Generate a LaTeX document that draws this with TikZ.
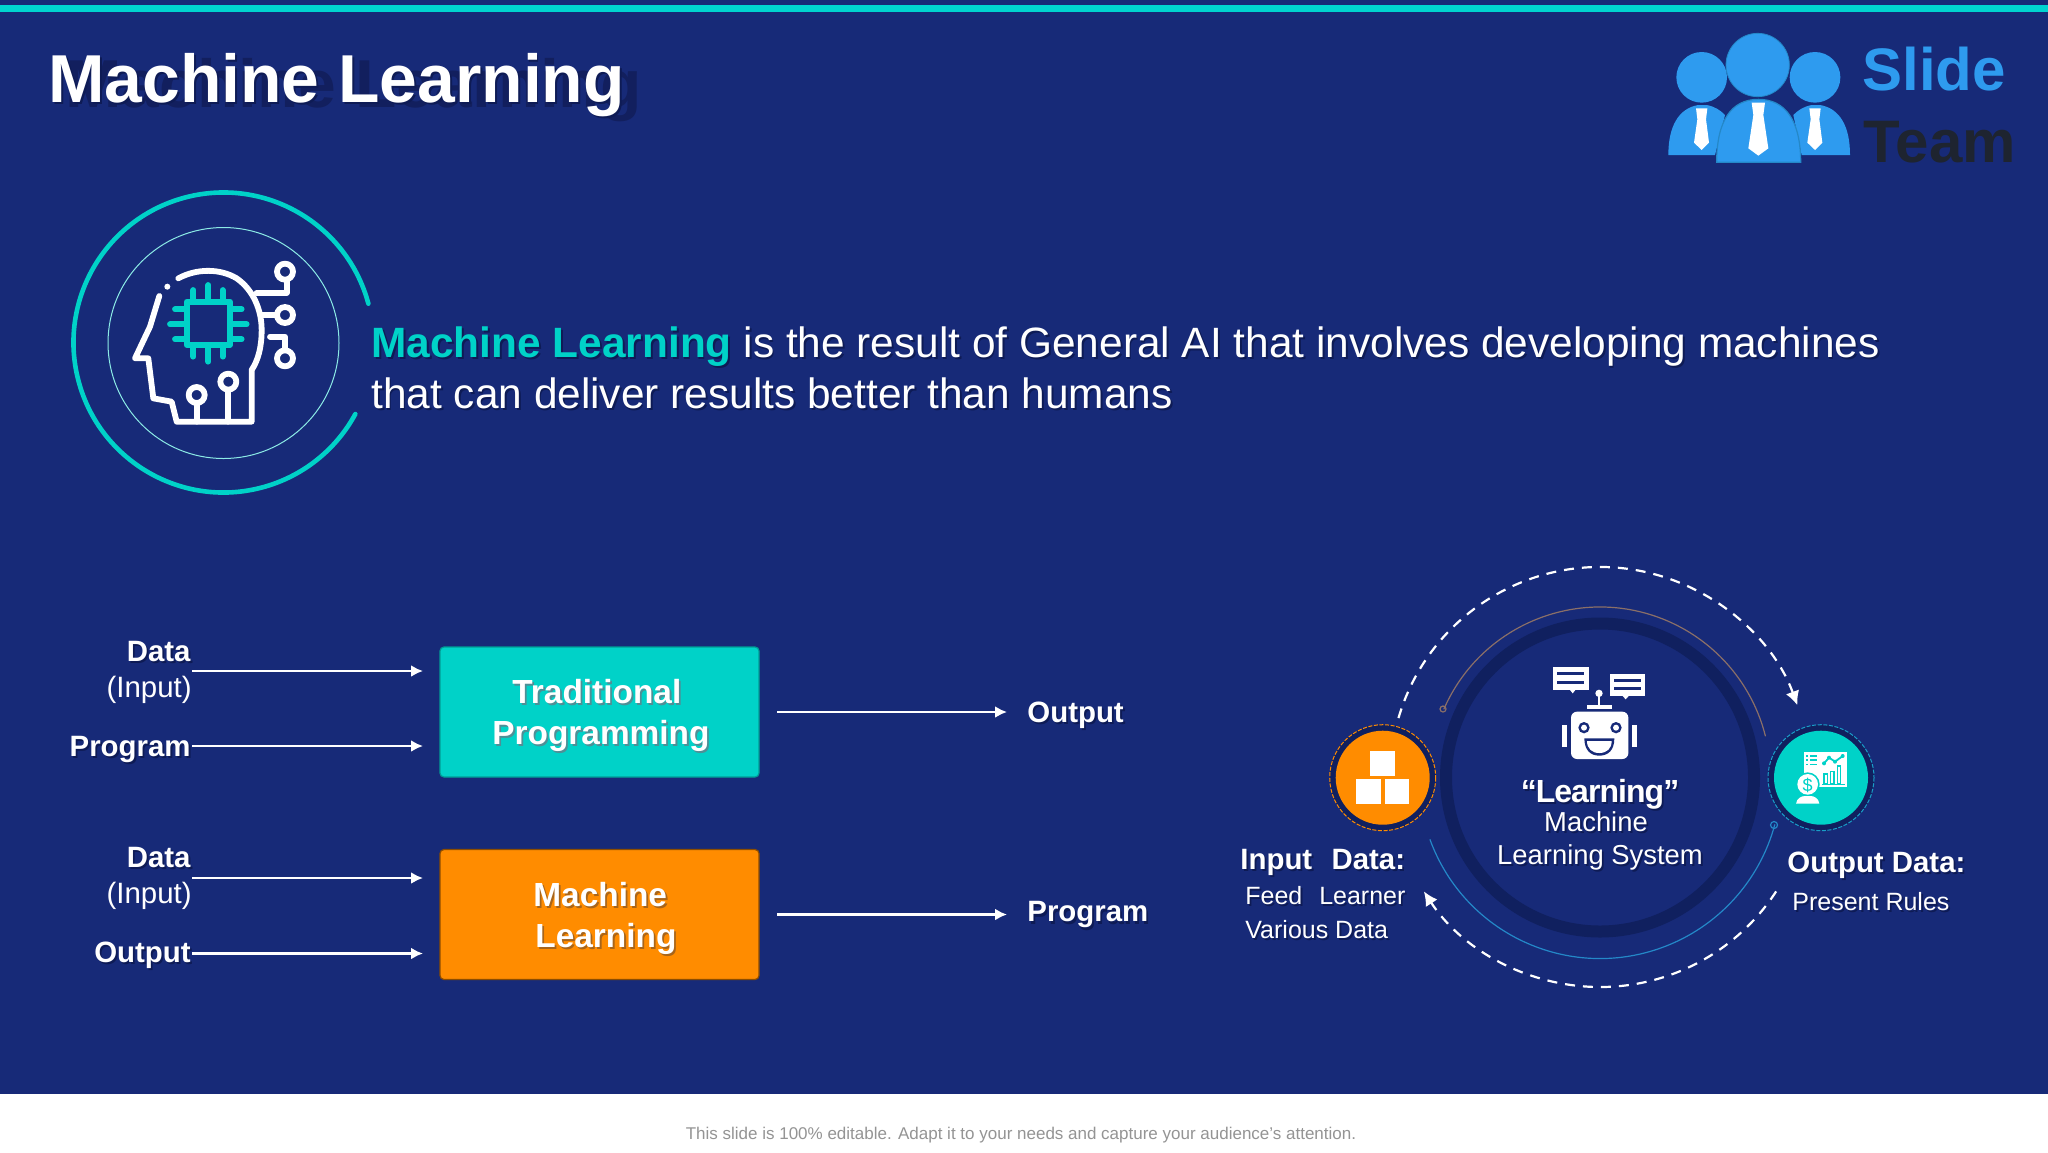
\documentclass[tikz,border=0pt]{standalone}
\usepackage{fontspec}
\setmainfont{Liberation Sans}
\newfontfamily\tightfam[LetterSpace=-3]{Liberation Sans}
\usetikzlibrary{arrows.meta}
\definecolor{bgnavy}{HTML}{172A78}
\definecolor{ringnavy}{HTML}{10205F}
\definecolor{teal}{HTML}{00D2C8}
\definecolor{barteal}{HTML}{00D4D0}
\definecolor{boxorange}{HTML}{FF8C00}
\definecolor{shadowc}{HTML}{0E1B55}
\definecolor{ghostc}{HTML}{121F5E}
\definecolor{logoblue}{HTML}{2E9BEF}
\definecolor{logodark}{HTML}{1E2430}
\definecolor{arcbrown}{HTML}{8A6F68}
\definecolor{arcblue}{HTML}{2488C8}
\definecolor{tealshadow}{HTML}{4F8F96}
\definecolor{orangeshadow}{HTML}{A8651A}
\newcommand{\shadc}[2]{\leavevmode\rlap{\raisebox{-1.1pt}{\kern.9pt\textcolor{#1}{#2}}}#2}
\newcommand{\shad}[1]{\shadc{shadowc}{#1}}
\newcommand{\fsz}[1]{\fontsize{#1}{#1}\selectfont}
\tikzset{
  lab/.style={inner sep=0pt,text=white,font=\fsz{14.7}},
  labb/.style={inner sep=0pt,text=white,font=\fsz{14.7}\bfseries},
  small/.style={inner sep=0pt,text=white,font=\fsz{12.5}},
  boxtext/.style={anchor=base west,inner sep=0pt,text=white,font=\fsz{16.7}\bfseries},
  whitearrow/.style={draw=white,line width=1.2pt,-{Latex[length=6pt,width=6pt]}},
  dasharc/.style={draw=white,line width=1.1pt,dash pattern=on 5pt off 4pt},
  progbox/.style={rounded corners=2pt,line width=.6pt,minimum width=159.5pt,minimum height=65pt,inner sep=0pt},
  iconline/.style={draw=white,line width=2.9pt,line cap=round,line join=round},
  chipline/.style={draw=teal,line width=2.9pt,line cap=round},
}
\begin{document}
\begin{tikzpicture}[x=0.5pt,y=-0.5pt]
\useasboundingbox (0,0) rectangle (2048,1152);
\fill[bgnavy] (0,0) rectangle (2048,1152);
\fill[barteal] (0,5) rectangle (2048,12);
\fill[white] (0,1094) rectangle (2048,1152);
% title
\node[anchor=base west,inner sep=0pt,text=white,font=\fsz{33.9}\bfseries] (title) at (48,102)
  {\leavevmode\rlap{\raisebox{-2.5pt}{\kern8.5pt\textcolor{ghostc}{Machine Learning}}}\shad{Machine Learning}};
% logo
\begin{scope}[shift={(1640,0)},scale=1/3]
  \fill[logoblue] (85,465) .. controls (85,380) and (115,325) .. (175,315) -- (200,315) .. controls (225,320) and (240,330) .. (255,345) -- (225,465) -- cycle;
  \fill[logoblue] (630,465) .. controls (630,380) and (600,325) .. (540,315) -- (515,315) .. controls (490,320) and (475,330) .. (460,345) -- (485,465) -- cycle;
  \fill[logoblue,draw=arcblue,line width=.6pt] (230,487) .. controls (230,360) and (275,298) .. (355,298) .. controls (435,298) and (482,360) .. (482,487) -- cycle;
  \fill[logoblue] (185,232) circle[radius=76];
  \fill[logoblue] (525,232) circle[radius=76];
  \fill[logoblue,draw=arcblue,line width=.4pt] (353,195) circle[radius=95];
  \fill[white] (168,325) -- (202,325) -- (198,358) -- (207,428) -- (185,450) -- (162,428) -- (172,358) -- cycle;
  \fill[white] (508,325) -- (542,325) -- (538,358) -- (547,428) -- (525,450) -- (502,428) -- (512,358) -- cycle;
  \fill[white] (335,308) -- (375,308) -- (370,345) -- (385,445) -- (355,467) -- (325,445) -- (340,345) -- cycle;
\end{scope}
\node[anchor=base west,inner sep=0pt,text=logoblue,font=\fsz{30}\bfseries] (slide) at (1862,90) {Slide};
\node[anchor=base west,inner sep=0pt,text=logodark,font=\fsz{30}\bfseries] (team) at (1863,162) {Team};
% head emblem
\draw[teal,line width=2.3pt,line cap=round] (223.5,342.5) ++(-15:150) arc[start angle=-15,end angle=-331.5,radius=150];
\draw[white!55!teal,line width=.5pt] (223.5,343) circle[radius=115.5];
\begin{scope}[shift={(40,170)},scale=1/3]
  \draw[iconline] (415,325) .. controls (470,295) and (540,295) .. (590,325) .. controls (640,360) and (665,420) .. (665,480) .. controls (665,530) and (655,570) .. (635,600) -- (635,755) -- (410,755) -- (395,695) -- (340,685) -- (325,565) -- (285,565) -- (330,470) -- (358,378);
  \fill[white] (382,350) circle[radius=9];
  \draw[iconline] (650,368) -- (740,368) -- (740,332);
  \draw[iconline] (735,305) circle[radius=24];
  \draw[iconline] (668,435) -- (710,435);
  \draw[iconline] (735,435) circle[radius=24];
  \draw[iconline] (690,500) -- (735,500) -- (735,540);
  \draw[iconline] (735,565) circle[radius=24];
  \draw[iconline] (470,755) -- (470,700);
  \draw[iconline] (470,675) circle[radius=24];
  \draw[iconline] (565,755) -- (565,660);
  \draw[iconline] (565,635) circle[radius=24];
  \draw[chipline,line join=round] (440,395) rectangle (570,525);
  \foreach \v/\t/\u in {460/360/560,505/345/575,548/360/560}{\draw[chipline] (\v,\t) -- (\v,395); \draw[chipline] (\v,525) -- (\v,\u);}
  \foreach \v/\t/\u in {418/405/605,463/390/620,508/405/605}{\draw[chipline] (\t,\v) -- (440,\v); \draw[chipline] (570,\v) -- (\u,\v);}
\end{scope}
% intro text
\node[anchor=base west,inner sep=0pt,text=white,font=\fsz{21.2}] (introa) at (371,357)
  {\leavevmode\rlap{\raisebox{-1.1pt}{\kern.9pt\textcolor{shadowc}{\bfseries Machine Learning}}}\textcolor{teal}{\bfseries Machine Learning} \shad{is the result of General AI that involves developing machines}};
\node[anchor=base west,inner sep=0pt,text=white,font=\fsz{21.2}] (introb) at (371,408)
  {\shad{that can deliver results better than humans}};
% program boxes
\node[progbox,fill=teal,draw=teal!75!black] (tp) at (599.5,712) {};
\node[progbox,fill=boxorange,draw=boxorange!55!black] (ml) at (599.5,914.5) {};
\node[boxtext] (tp1) at (512,703) {\shadc{tealshadow}{Traditional}};
\node[boxtext] (tp2) at (492,744) {\shadc{tealshadow}{Programming}};
\node[boxtext] (ml1) at (533,906) {\shadc{orangeshadow}{Machine}};
\node[boxtext] (ml2) at (535,947) {\shadc{orangeshadow}{Learning}};
% left labels
\node[labb,anchor=base east] (d1) at (191,661) {\shad{Data}};
\node[lab,anchor=base east] (i1) at (192,697) {(Input)};
\node[labb,anchor=base east] (p1) at (191,756) {\shad{Program}};
\node[labb,anchor=base east] (d2) at (191,867) {\shad{Data}};
\node[lab,anchor=base east] (i2) at (192,903) {(Input)};
\node[labb,anchor=base east] (o2) at (191,962) {\shad{Output}};
\coordinate (s1) at (192,671); \coordinate (e1) at (423,671);
\coordinate (s2) at (192,746); \coordinate (e2) at (423,746);
\coordinate (s3) at (192,878); \coordinate (e3) at (423,878);
\coordinate (s4) at (192,953.5); \coordinate (e4) at (423,953.5);
\draw[whitearrow] (s1) -- (e1);
\draw[whitearrow] (s2) -- (e2);
\draw[whitearrow] (s3) -- (e3);
\draw[whitearrow] (s4) -- (e4);
% right labels
\node[labb,anchor=west] (ro) at (1027,716) {\shad{Output}};
\node[labb,anchor=west] (rp) at (1027,916) {\shad{Program}};
\coordinate (s5) at (777,712); \coordinate (e5) at (1007,712);
\coordinate (s6) at (777,914.5); \coordinate (e6) at (1007,914.5);
\draw[whitearrow] (s5) -- (e5);
\draw[whitearrow] (s6) -- (e6);
% learning cycle
\draw[ringnavy,line width=6pt] (1600,777.5) circle[radius=154];
\draw[arcbrown,line width=.6pt] (1600,777.5) ++(-156.4:170.5) arc[start angle=-156.4,end angle=-14,radius=170.5];
\draw[arcbrown,line width=.6pt] (1443,709) circle[radius=3];
\draw[arcblue,line width=.6pt] (1600,777.5) ++(-200:181) arc[start angle=160,end angle=15,radius=181];
\draw[arcblue,line width=.6pt] (1774,825) circle[radius=3.5];
\draw[dasharc,-{Latex[length=7pt,width=7pt]}] (1600,777) ++(-163.7:210) arc[start angle=-163.7,end angle=-20,radius=210];
\draw[dasharc,-{Latex[length=7pt,width=7pt]}] (1600,777) ++(33:210) arc[start angle=33,end angle=147,radius=210];
% input circle
\fill[ringnavy] (1382.7,777.7) circle[radius=53];
\draw[boxorange,line width=.5pt,dash pattern=on 2pt off .8pt] (1382.7,777.7) circle[radius=53];
\fill[boxorange] (1382.7,777.7) circle[radius=47];
\begin{scope}[shift={(1220,550)},scale=1/3]
  \fill[white] (450,603) rectangle (525,678);
  \fill[white] (408,688) rectangle (483,762);
  \fill[white] (495,688) rectangle (568,762);
  % robot
  \fill[white,rounded corners=3pt] (1053,485) rectangle (1225,627);
  \fill[white] (1025,525) rectangle (1042,590);
  \fill[white] (1235,525) rectangle (1252,590);
  \fill[bgnavy] (1092,533) circle[radius=17];
  \fill[white] (1092,533) circle[radius=9];
  \fill[bgnavy] (1188,533) circle[radius=17];
  \fill[white] (1188,533) circle[radius=9];
  \fill[bgnavy] (1093,565) -- (1183,565) .. controls (1183,600) and (1165,617) .. (1138,617) .. controls (1111,617) and (1093,600) .. (1093,565) -- cycle;
  \fill[white] (1101,573) -- (1175,573) .. controls (1175,596) and (1160,609) .. (1138,609) .. controls (1116,609) and (1101,596) .. (1101,573) -- cycle;
  \fill[white] (1100,465) rectangle (1175,476);
  \fill[white] (1133,430) rectangle (1141,465);
  \fill[white] (1137,430) circle[radius=11];
  % bubbles
  \fill[white] (1000,352) rectangle (1106,420);
  \fill[white] (1050,420) -- (1066,420) -- (1058,430) -- cycle;
  \fill[bgnavy] (1012,366) rectangle (1092,376);
  \fill[bgnavy] (1012,392) rectangle (1092,402);
  \fill[white] (1170,372) rectangle (1275,438);
  \fill[white] (1208,438) -- (1226,438) -- (1217,448) -- cycle;
  \fill[bgnavy] (1182,386) rectangle (1262,396);
  \fill[bgnavy] (1182,411) rectangle (1262,421);
\end{scope}
% output circle
\fill[ringnavy] (1821,777.7) circle[radius=53];
\draw[arcblue!70!teal,line width=.5pt,dash pattern=on 2pt off .8pt] (1821,777.7) circle[radius=53];
\fill[teal] (1821,777.7) circle[radius=47];
\begin{scope}[shift={(1620,550)},scale=1/3]
  \fill[white] (553,607) rectangle (680,711);
  \foreach \v in {617,630,643}{\fill[teal] (559,\v-2) rectangle (564,\v+3); \fill[teal] (569,\v-2) rectangle (592,\v+3);}
  \draw[teal,line width=.9pt,line join=round] (612,640) -- (627,623) -- (645,635) -- (668,618);
  \foreach \a/\b in {612/640,627/623,645/635,668/618}{\fill[teal] (\a,\b) circle[radius=6];}
  \foreach \a/\b in {612/672,632/665,652/648}{\draw[teal,line width=.6pt] (\a,701) rectangle (\a+10,\b);}
  \draw[teal,line width=.8pt] (606,704) -- (676,704);
  \fill[teal] (563,703) circle[radius=36];
  \fill[white] (563,703) circle[radius=31];
  \node[inner sep=0pt,text=teal,font=\fsz{9}] (dollar) at (563,705) {\$};
  \fill[white] (528,761) .. controls (530,745) and (545,738) .. (555,738) -- (572,738) .. controls (582,738) and (596,745) .. (598,761) -- cycle;
\end{scope}
% cycle text
\node[inner sep=0pt,text=white,anchor=base,font=\fsz{16}\tightfam\bfseries] (lrn) at (1600,802) {\shad{“Learning”}};
\node[lab,anchor=base,font=\fsz{13.7}] (mach) at (1596,831) {\shad{Machine}};
\node[lab,anchor=base,font=\fsz{13.7}] (lsys) at (1600,864) {\shad{Learning System}};
\node[labb,anchor=base west] (ind) at (1240,869) {\shad{Input\ \ \kern1.5pt Data:}};
\node[small,anchor=base west] (feed) at (1245,904) {\shad{Feed\ \ \kern1.5pt Learner}};
\node[small,anchor=base west] (vari) at (1245,938) {\shad{Various Data}};
\node[labb,anchor=base west] (outd) at (1787,872) {\shad{Output Data:}};
\node[small,anchor=base west] (pres) at (1792,910) {\shad{Present Rules}};
% footer
\node[anchor=base,inner sep=0pt,text=black!42,font=\fsz{8.5}] (foot) at (1021,1139) {This slide is 100\% editable. Adapt it to your needs and capture your audience's attention.};
\end{tikzpicture}
\end{document}
